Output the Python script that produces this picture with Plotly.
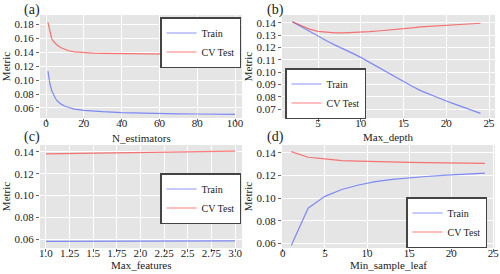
import plotly.graph_objects as go

# (a) N_estimators
a_x = [1, 2, 3, 4, 5, 6, 8, 10, 12, 15, 20, 25, 30, 40, 50, 60, 70, 80, 90, 100]
a_train = [0.1126, 0.095, 0.085, 0.078, 0.0735, 0.070, 0.0655, 0.0625, 0.0605, 0.0585, 0.0567, 0.0555, 0.0547, 0.0535, 0.0527, 0.0521, 0.0517, 0.0514, 0.0512, 0.0510]
a_cv = [0.1825, 0.168, 0.159, 0.155, 0.152, 0.1495, 0.146, 0.1435, 0.1418, 0.1402, 0.1389, 0.1383, 0.1380, 0.1375, 0.1372, 0.1369, 0.1367, 0.1365, 0.1363, 0.1362]

# (b) Max_depth
b_x = list(range(2, 25))
b_train = [0.141, 0.137, 0.133, 0.129, 0.1255, 0.122, 0.119, 0.1155, 0.112, 0.108, 0.104, 0.100, 0.096,
           0.092, 0.0885, 0.085, 0.082, 0.079, 0.0765, 0.074, 0.0715, 0.069, 0.0665]
b_cv = [0.141, 0.138, 0.135, 0.1332, 0.1325, 0.132, 0.132, 0.1322, 0.1325, 0.133, 0.1335, 0.134, 0.1348,
        0.1355, 0.136, 0.1368, 0.1373, 0.1378, 0.1382, 0.1386, 0.139, 0.1394, 0.1398]

# (c) Max_features
c_x = [1, 2, 3]
c_train = [0.0579, 0.0582, 0.0585]
c_cv = [0.1382, 0.1397, 0.1408]
c_ticks = [1.0, 1.25, 1.5, 1.75, 2.0, 2.25, 2.5, 2.75, 3.0]
c_ticktext = ["1.0", "1.25", "1.5", "1.75", "2.0", "2.25", "2.5", "2.75", "3.0"]

# (d) Min_sample_leaf
d_x = [1, 3, 5, 7, 9, 11, 13, 15, 17, 19, 21, 24]
d_train = [0.058, 0.091, 0.1015, 0.1075, 0.1115, 0.1145, 0.1165, 0.118, 0.119, 0.120, 0.121, 0.122]
d_cv = [0.141, 0.136, 0.1345, 0.133, 0.1325, 0.132, 0.1318, 0.1315, 0.1312, 0.131, 0.131, 0.1305]

x_titles = ["N_estimators", "Max_depth", "Max_features", "Min_sample_leaf"]

BLUE = "rgba(40,60,255,0.55)"
RED = "rgba(255,20,20,0.55)"
FONT = "Liberation Serif"

fig = go.Figure()
panels = [
    (a_x, a_train, a_cv, "x", "y", "legend"),
    (b_x, b_train, b_cv, "x2", "y2", "legend2"),
    (c_x, c_train, c_cv, "x3", "y3", "legend3"),
    (d_x, d_train, d_cv, "x4", "y4", "legend4"),
]
for xs, tr, cv, xa, ya, lg in panels:
    fig.add_trace(go.Scatter(x=xs, y=tr, mode="lines", name="Train", line=dict(color=BLUE, width=1.2),
                             xaxis=xa, yaxis=ya, legend=lg))
    fig.add_trace(go.Scatter(x=xs, y=cv, mode="lines", name="CV Test", line=dict(color=RED, width=1.2),
                             xaxis=xa, yaxis=ya, legend=lg))

ax_common = dict(showgrid=True, gridcolor="white", gridwidth=1, zeroline=False,
                 ticks="outside", ticklen=3, tickcolor="#666", tickangle=0, automargin=False,
                 tickfont=dict(family=FONT, size=11, color="#222"), showline=False)
x_common = dict(ticklabelstandoff=-8, **ax_common)
title_font = dict(family=FONT, size=11, color="#222")

yt = 1 - 15 / 274
yb = 1 - 118 / 274
yt2 = 1 - 145 / 274
yb2 = 1 - 248 / 274
xl1, xr1 = 40 / 500, 242 / 500
xl2, xr2 = 282 / 500, 495 / 500

fig.update_layout(
    width=500, height=274, margin=dict(l=0, r=0, t=0, b=0),
    paper_bgcolor="white", plot_bgcolor="#e5e5e5",
    font=dict(family=FONT, size=11, color="#222"),
    xaxis=dict(domain=[xl1, xr1], anchor="y", range=[-3.2, 103.7], tickvals=[0, 20, 40, 60, 80, 100], **x_common),
    yaxis=dict(domain=[yb, yt], anchor="x", range=[0.0457, 0.1929], tickvals=[0.06, 0.08, 0.10, 0.12, 0.14, 0.16, 0.18],
               tickformat=".2f", title=dict(text="Metric", font=title_font, standoff=4), **ax_common),
    xaxis2=dict(domain=[xl2, xr2], anchor="y2", range=[0.79, 25.7], tickvals=[5, 10, 15, 20, 25], **x_common),
    yaxis2=dict(domain=[yb, yt], anchor="x2", range=[0.0627, 0.1465],
                tickvals=[0.07, 0.08, 0.09, 0.10, 0.11, 0.12, 0.13, 0.14], tickformat=".2f",
                title=dict(text="Metric", font=title_font, standoff=1), **ax_common),
    xaxis3=dict(domain=[xl1, xr1], anchor="y3", range=[0.937, 3.074], tickvals=c_ticks, ticktext=c_ticktext, **x_common),
    yaxis3=dict(domain=[yb2, yt2], anchor="x3", range=[0.0519, 0.1464], tickvals=[0.06, 0.08, 0.10, 0.12, 0.14],
                tickformat=".2f", title=dict(text="Metric", font=title_font, standoff=4), **ax_common),
    xaxis4=dict(domain=[xl2, xr2], anchor="y4", range=[-0.1, 25.2], tickvals=[0, 5, 10, 15, 20, 25], **x_common),
    yaxis4=dict(domain=[yb2, yt2], anchor="x4", range=[0.0559, 0.1468], tickvals=[0.06, 0.08, 0.10, 0.12, 0.14],
                tickformat=".2f", title=dict(text="Metric", font=title_font, standoff=1), **ax_common),
)

leg_common = dict(bgcolor="white", bordercolor="#444", borderwidth=1.5,
                  font=dict(family=FONT, size=10, color="#222"), yanchor="top",
                  tracegroupgap=0, itemwidth=30)
fig.update_layout(
    legend=dict(x=241 / 500, xanchor="right", y=1 - 17 / 274, **leg_common),
    legend2=dict(x=285 / 500, xanchor="left", y=1 - 68 / 274, **leg_common),
    legend3=dict(x=241 / 500, xanchor="right", y=1 - 173 / 274, **leg_common),
    legend4=dict(x=487 / 500, xanchor="right", y=1 - 197 / 274, **leg_common),
)

# x-axis titles as annotations placed under each panel
title_pos = [((xl1 + xr1) / 2, 138), ((xl2 + xr2) / 2, 137), ((xl1 + xr1) / 2, 265), ((xl2 + xr2) / 2, 265)]
for t, (px, py) in zip(x_titles, title_pos):
    fig.add_annotation(text=t, xref="paper", yref="paper", x=px, y=1 - py / 274,
                       xanchor="center", yanchor="middle", showarrow=False, font=title_font)

labels = [("(a)", 22, 10), ("(b)", 265, 10), ("(c)", 22, 137), ("(d)", 265, 137)]
for t, px, py in labels:
    fig.add_annotation(text=t, xref="paper", yref="paper", x=px / 500, y=1 - py / 274,
                       xanchor="left", yanchor="middle", showarrow=False,
                       font=dict(family=FONT, size=14, color="#222"))

fig.write_html("out.html", config={"displayModeBar": False},
               post_script="document.body.style.margin='0';document.body.style.padding='0';")
